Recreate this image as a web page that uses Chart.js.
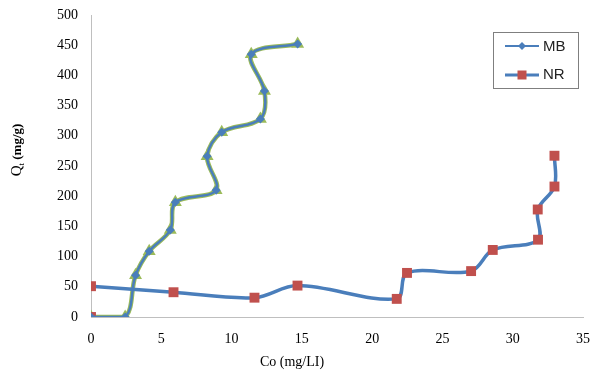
<!DOCTYPE html>
<html><head><meta charset="utf-8">
<script src="https://cdn.jsdelivr.net/npm/chart.js@4/dist/chart.umd.min.js"></script>
<style>html,body{margin:0;padding:0;background:#fff}#wrap{width:592px;height:372px;position:relative}</style>
</head><body><div id="wrap"><canvas id="c"></canvas></div>
<script>
// Data
const mbX = [0, 2.43, 3.17, 4.14, 5.64, 6.0, 8.9, 8.26, 9.3, 12.05, 12.34, 11.4, 14.7];
const mbY = [0, 0, 69, 109, 144, 190, 210, 266, 306, 328, 374, 435, 452];
const nrX = [0, null, 0, 5.87, 11.63, 14.69, 21.75, 22.48, 27.04, 28.58, 31.8, 31.78, 32.97, 32.97];
const nrY = [0, null, 51, 41, 32, 52, 30, 73, 76, 111, 128, 178, 216, 267];
const seriesNames = ['MB', 'NR'];
const xTicks = [0, 5, 10, 15, 20, 25, 30, 35];
const yTicks = [0, 50, 100, 150, 200, 250, 300, 350, 400, 450, 500];
const xTitle = 'Co (mg/LI)';
const yTitleMain = 'Q', yTitleSub = 't', yTitleRest = ' (mg/g)';

const pts = (xs, ys) => xs.map((x, i) => ({x: x, y: ys[i]}));
const BLUE = '#4a7ebb', GREEN = '#9bbb59', RED = '#c0504d';

const overlay = {
  id: 'overlay',
  afterDraw(chart) {
    const ctx = chart.ctx;
    ctx.save();
    // x title
    ctx.fillStyle = '#000';
    ctx.font = '14px "Liberation Serif", "Times New Roman", serif';
    ctx.textAlign = 'center';
    ctx.textBaseline = 'middle';
    ctx.fillText(xTitle, 292, 362);
    // y title (rotated)
    ctx.save();
    ctx.translate(16, 150);
    ctx.rotate(-Math.PI / 2);
    const f1 = '15px "Liberation Serif", serif';
    const f2 = '9px "Liberation Serif", serif';
    const f3 = 'bold 13px "Liberation Serif", serif';
    ctx.font = f1; const w1 = ctx.measureText(yTitleMain).width;
    ctx.font = f2; const w2 = ctx.measureText(yTitleSub).width;
    ctx.font = f3; const w3 = ctx.measureText(yTitleRest).width;
    let x0 = -(w1 + w2 + w3) / 2;
    ctx.textAlign = 'left';
    ctx.textBaseline = 'alphabetic';
    ctx.font = f1; ctx.fillText(yTitleMain, x0, 5); x0 += w1;
    ctx.font = f2; ctx.fillText(yTitleSub, x0, 8); x0 += w2;
    ctx.font = f3; ctx.fillText(yTitleRest, x0, 5);
    ctx.restore();
    // legend box
    ctx.fillStyle = '#fff';
    ctx.fillRect(493.5, 32.5, 85, 56);
    ctx.strokeStyle = '#7f7f7f';
    ctx.lineWidth = 1;
    ctx.strokeRect(493.5, 32.5, 85, 56);
    // MB entry
    ctx.strokeStyle = BLUE; ctx.lineWidth = 2;
    ctx.beginPath(); ctx.moveTo(505, 46); ctx.lineTo(539, 46); ctx.stroke();
    ctx.fillStyle = BLUE;
    ctx.beginPath(); ctx.moveTo(522, 42); ctx.lineTo(526, 46); ctx.lineTo(522, 50); ctx.lineTo(518, 46); ctx.closePath(); ctx.fill();
    // NR entry
    ctx.strokeStyle = BLUE; ctx.lineWidth = 3;
    ctx.beginPath(); ctx.moveTo(505, 75); ctx.lineTo(539, 75); ctx.stroke();
    ctx.fillStyle = RED;
    ctx.fillRect(517.5, 70.5, 9, 9);
    ctx.fillStyle = '#222';
    ctx.font = '15px "Liberation Sans", Arial, sans-serif';
    ctx.textAlign = 'left'; ctx.textBaseline = 'middle';
    ctx.fillText(seriesNames[0], 543, 47);
    ctx.fillText(seriesNames[1], 543, 75);
    ctx.restore();
  }
};

new Chart(document.getElementById('c'), {
  type: 'scatter',
  data: {
    datasets: [
      {
        label: seriesNames[0], data: pts(mbX, mbY), showLine: true, tension: 0.35,
        borderColor: BLUE, borderWidth: 2.5, backgroundColor: BLUE,
        pointStyle: 'rectRot', pointRadius: 4.5, pointBorderWidth: 0, pointBackgroundColor: BLUE,
        order: 1
      },
      {
        label: seriesNames[1], data: pts(nrX, nrY), showLine: true, tension: 0.35, spanGaps: false,
        borderColor: BLUE, borderWidth: 3.5, backgroundColor: RED,
        pointStyle: 'rect', pointRadius: 7, pointBorderWidth: 0, pointBackgroundColor: RED,
        order: 2
      },
      {
        label: '', data: pts(mbX, mbY), showLine: true, tension: 0.35,
        borderColor: GREEN, borderWidth: 4.5, backgroundColor: GREEN,
        pointStyle: 'triangle', pointRadius: 7.5, pointBorderWidth: 0, pointBackgroundColor: GREEN,
        order: 3
      }
    ]
  },
  options: {
    responsive: true, maintainAspectRatio: false, animation: false,
    layout: {padding: {top: 15, right: 9, left: 0, bottom: 0}},
    plugins: {legend: {display: false}, tooltip: {enabled: false}},
    scales: {
      x: {
        type: 'linear', min: 0, max: 35,
        afterFit(s) { s.height = 55; s.paddingLeft = 0; s.paddingRight = 0; },
        afterBuildTicks(s) { s.ticks = xTicks.map(v => ({value: v})); },
        grid: {display: false, drawTicks: false},
        border: {display: true, color: '#bfbfbf', width: 1},
        ticks: {padding: 14, color: '#000', font: {family: '"Liberation Serif", serif', size: 14}}
      },
      y: {
        type: 'linear', min: 0, max: 500,
        afterFit(s) { s.width = 91; s.paddingTop = 0; s.paddingBottom = 0; },
        afterBuildTicks(s) { s.ticks = yTicks.map(v => ({value: v})); },
        grid: {display: false, drawTicks: false},
        border: {display: true, color: '#bfbfbf', width: 1},
        ticks: {padding: 13, color: '#000', font: {family: '"Liberation Serif", serif', size: 14}}
      }
    }
  },
  plugins: [overlay]
});
</script>
</body></html>
